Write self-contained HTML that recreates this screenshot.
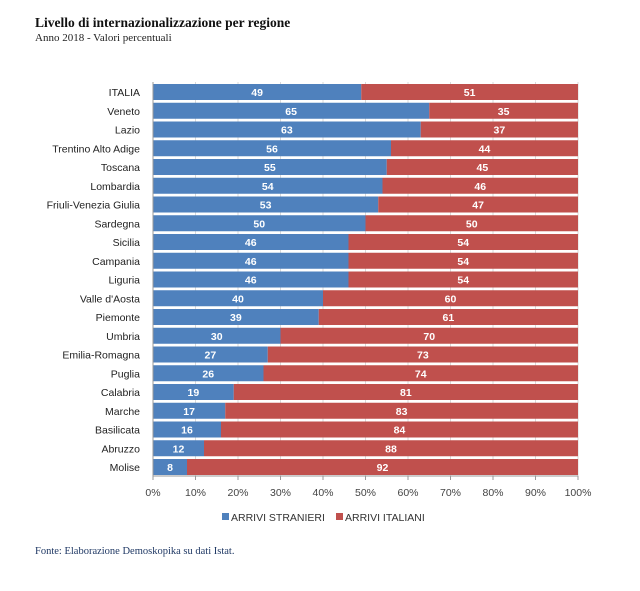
<!DOCTYPE html>
<html><head><meta charset="utf-8"><style>
body{margin:0;background:#fff;width:640px;height:586px;overflow:hidden;font-family:"Liberation Sans",sans-serif}
</style></head><body>
<svg width="640" height="586" xmlns="http://www.w3.org/2000/svg">
<text x="35" y="27" font-family="Liberation Serif" font-weight="bold" font-size="13.5" fill="#111">Livello di internazionalizzazione per regione</text>
<text x="35" y="41" font-family="Liberation Serif" font-size="11" fill="#222">Anno 2018 - Valori percentuali</text>
<g id="grid"></g><g id="bars"></g><g id="axis"></g>
<g>
<rect x="222" y="513" width="7" height="7" fill="#4f81bd"/>
<text x="231" y="521" font-size="10.5" fill="#333">ARRIVI STRANIERI</text>
<rect x="336" y="513" width="7" height="7" fill="#c0504d"/>
<text x="345" y="521" font-size="10.5" fill="#333">ARRIVI ITALIANI</text>
</g>
<text x="35" y="554" font-family="Liberation Serif" font-size="10.5" fill="#1f3864">Fonte: Elaborazione Demoskopika su dati Istat.</text>
</svg>
<script>
const categories=["ITALIA","Veneto","Lazio","Trentino Alto Adige","Toscana","Lombardia","Friuli-Venezia Giulia","Sardegna","Sicilia","Campania","Liguria","Valle d'Aosta","Piemonte","Umbria","Emilia-Romagna","Puglia","Calabria","Marche","Basilicata","Abruzzo","Molise"];
const stranieri=[49,65,63,56,55,54,53,50,46,46,46,40,39,30,27,26,19,17,16,12,8];
const italiani=[51,35,37,44,45,46,47,50,54,54,54,60,61,70,73,74,81,83,84,88,92];
const ticks=[0,10,20,30,40,50,60,70,80,90,100];
const NS="http://www.w3.org/2000/svg";
const X0=153,X1=578,Y0=92,STEP=18.75,BH=16,AXY=476;
const xs=v=>X0+(X1-X0)*v/100;
const ys=i=>Y0+i*STEP;
function mk(t,a,p){const e=document.createElementNS(NS,t);for(const k in a)e.setAttribute(k,a[k]);p.appendChild(e);return e;}
const grid=document.getElementById('grid'),bars=document.getElementById('bars'),axis=document.getElementById('axis');
ticks.forEach(t=>{
 const l=mk('line',{x1:xs(t),x2:xs(t),y1:82,y2:AXY,stroke:'#d9d9d9','stroke-width':1},grid);
 
 
 const tk=mk('line',{x1:xs(t),x2:xs(t),y1:AXY,y2:AXY+4,stroke:'#999'},axis);
 
 
 const tx=mk('text',{x:xs(t),y:AXY+20,'text-anchor':'middle','font-size':10.5,fill:'#444'},axis);
 tx.textContent=t+'%';
 
 
});
const ax=mk('line',{x1:X0,x2:X1,y1:AXY,y2:AXY,stroke:'#999'},axis);


const ay=mk('line',{x1:X0,x2:X0,y1:82,y2:AXY,stroke:'#999'},axis);


categories.forEach((c,i)=>{
 const y=ys(i);
 const lb=mk('text',{x:140,y:y+4,'text-anchor':'end','font-size':10.5,fill:'#222'},axis);
 lb.textContent=c;
 
 
 const s=stranieri[i],t=italiani[i];
 const b1=mk('rect',{x:xs(0),y:y-BH/2,width:xs(s)-xs(0),height:BH,fill:'#4f81bd'},bars);
 
 
 const b2=mk('rect',{x:xs(s),y:y-BH/2,width:xs(s+t)-xs(s),height:BH,fill:'#c0504d'},bars);
 
 
 const v1=mk('text',{x:(xs(0)+xs(s))/2,y:y+4,'text-anchor':'middle','font-size':10.5,'font-weight':'bold',fill:'#fff'},bars);
 v1.textContent=s;
 
 
 const v2=mk('text',{x:(xs(s)+xs(s+t))/2,y:y+4,'text-anchor':'middle','font-size':10.5,'font-weight':'bold',fill:'#fff'},bars);
 v2.textContent=t;
 
 
});
</script>
</body></html>
